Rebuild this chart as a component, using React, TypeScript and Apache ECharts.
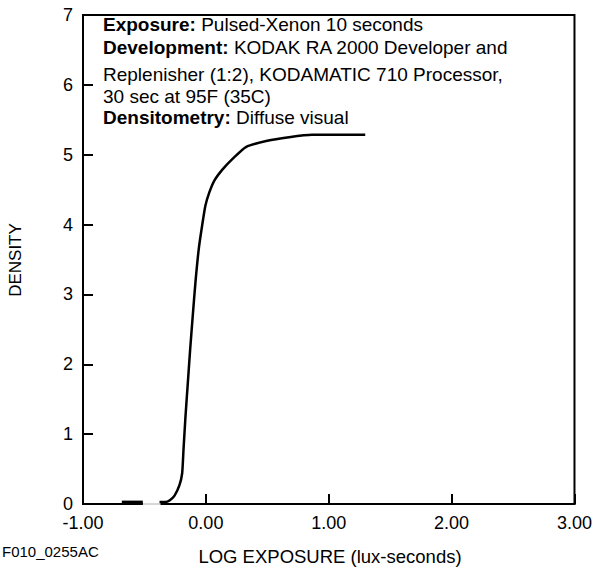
import React, { useEffect, useRef } from "react";
import * as echarts from "echarts";

const xTicks = [-1, 0, 1, 2, 3];
const yTicks = [0, 1, 2, 3, 4, 5, 6, 7];

// Characteristic curve (log exposure, density)
const curveX = [-0.377, -0.33, -0.296, -0.255, -0.215, -0.193, -0.182, -0.166, -0.147, -0.128, -0.107, -0.085, -0.058, -0.031, -0.004, 0.028, 0.069, 0.136, 0.217, 0.326, 0.5, 0.676, 0.862, 1.297];
const curveY = [0.03, 0.03, 0.05, 0.12, 0.27, 0.44, 0.78, 1.25, 1.73, 2.21, 2.69, 3.17, 3.65, 3.98, 4.27, 4.46, 4.63, 4.79, 4.94, 5.11, 5.2, 5.25, 5.285, 5.285];

// Small artefacts near the baseline
const toeX = [-0.684, -0.513];
const toeY = [0.02, 0.02];
const gapX = [-0.513, -0.37];
const gapY = [0, 0];

const infoLines = [
  { bold: "Exposure:", rest: " Pulsed-Xenon 10 seconds" },
  { bold: "Development:", rest: " KODAK RA 2000 Developer and" },
  { bold: "", rest: "Replenisher (1:2), KODAMATIC 710 Processor," },
  { bold: "", rest: "30 sec at 95F (35C)" },
  { bold: "Densitometry:", rest: " Diffuse visual" },
];
const infoY = [25, 48, 75, 97, 118];

const FONT = "'Liberation Sans', Arial, Helvetica, sans-serif";

export default function App() {
  const ref = useRef<HTMLDivElement>(null);
  useEffect(() => {
    if (!ref.current) return;
    const chart = echarts.init(ref.current, null, { renderer: "svg" });
    const zip = (xs: number[], ys: number[]) => xs.map((x, i) => [x, ys[i]]);
    const textEls: any[] = infoLines.map((l, i) => ({
      type: "text",
      left: 103,
      top: infoY[i] - 10,
      style: {
        text: l.bold ? `{b|${l.bold}}${l.rest}` : l.rest,
        fontFamily: FONT,
        fontSize: 19,
        fill: "#000",
        rich: { b: { fontWeight: "bold", fontSize: 19, fontFamily: FONT, fill: "#000" } },
      },
    }));
    chart.setOption({
      animation: false,
      backgroundColor: "#fff",
      grid: {
        left: 83,
        right: 18,
        top: 15,
        bottom: 73,
        show: true,
        borderColor: "#000",
        borderWidth: 2,
      },
      xAxis: {
        type: "value",
        min: -1,
        max: 3,
        interval: 1,
        splitLine: { show: false },
        axisLine: { show: true, onZero: false, lineStyle: { color: "#000", width: 2 } },
        axisTick: { show: true, inside: true, length: 10, lineStyle: { color: "#000", width: 2 } },
        axisLabel: {
          color: "#000",
          fontFamily: FONT,
          fontSize: 18,
          margin: 10,
          formatter: (v: number) => v.toFixed(2),
        },
      },
      yAxis: {
        type: "value",
        min: 0,
        max: 7,
        interval: 1,
        splitLine: { show: false },
        axisLine: { show: true, onZero: false, lineStyle: { color: "#000", width: 2 } },
        axisTick: { show: true, inside: true, length: 10, lineStyle: { color: "#000", width: 2 } },
        axisLabel: { color: "#000", fontFamily: FONT, fontSize: 18, margin: 10 },
      },
      series: [
        {
          type: "line",
          data: zip(gapX, gapY),
          showSymbol: false,
          clip: false,
          z: 3,
          lineStyle: { color: "#fff", width: 3 },
        },
        {
          type: "line",
          data: zip(gapX, gapY),
          showSymbol: false,
          clip: false,
          z: 4,
          lineStyle: { color: "#b0b0b0", width: 1 },
        },
        {
          type: "line",
          data: zip(toeX, toeY),
          showSymbol: false,
          clip: false,
          z: 5,
          lineStyle: { color: "#000", width: 4 },
        },
        {
          type: "line",
          data: zip(curveX, curveY),
          showSymbol: false,
          smooth: 0.2,
          clip: false,
          z: 5,
          lineStyle: { color: "#000", width: 2.5 },
        },
      ],
      graphic: [
        ...textEls,
        {
          type: "text",
          left: 2,
          top: 544,
          style: { text: "F010_0255AC", fontFamily: FONT, fontSize: 15, fill: "#000" },
        },
        {
          type: "text",
          x: 330,
          y: 556,
          style: {
            text: "LOG EXPOSURE (lux-seconds)",
            fontFamily: FONT,
            fontSize: 18.5,
            fill: "#000",
            align: "center",
            verticalAlign: "middle",
          },
        },
        {
          type: "text",
          x: 15,
          y: 260,
          rotation: Math.PI / 2,
          style: {
            text: "DENSITY",
            fontFamily: FONT,
            fontSize: 17,
            fill: "#000",
            align: "center",
            verticalAlign: "middle",
          },
        },
      ],
    });
    return () => chart.dispose();
  }, []);
  return (
    <div
      ref={ref}
      style={{ position: "fixed", left: 0, top: 0, width: 595, height: 577 }}
    />
  );
}
